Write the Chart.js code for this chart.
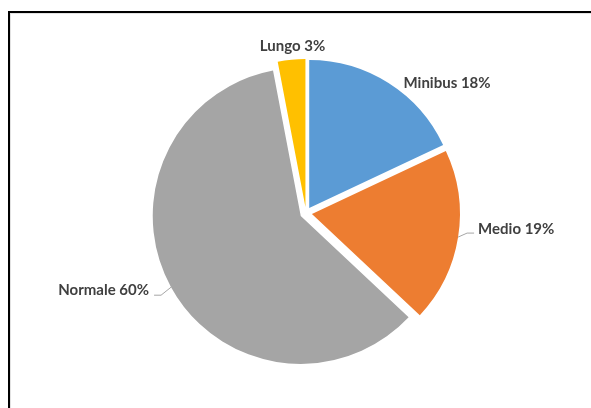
<!DOCTYPE html>
<html>
<head>
<meta charset="utf-8">
<script src="https://cdn.jsdelivr.net/npm/chart.js@4"></script>
<style>
  html, body { margin: 0; padding: 0; background: #fff; overflow: hidden; }
  #wrap { position: relative; width: 591px; height: 408px; overflow: hidden; }
  #frame {
    position: absolute; left: 8px; top: 11px; width: 620px; height: 430px;
    border: 2px solid #000; box-shadow: inset 1px 1px 0 #e2e2e2;
  }
  canvas { position: absolute; left: 0; top: 0; }
</style>
</head>
<body>
<div id="wrap">
  <div id="frame"></div>
  <canvas id="c" width="591" height="408"></canvas>
</div>
<script>
// Bus types and their share of the fleet (%)
const categories = ['Minibus', 'Medio', 'Normale', 'Lungo'];
const shares = [18, 19, 60, 3];
const sliceColors = ['#5B9BD5', '#ED7D31', '#A5A5A5', '#FFC000'];

// Label placement relative to the outer edge point of each slice
const labelLayout = [
  { align: 'left',   dx: 15,  dy: 5,  leader: null },
  { align: 'left',   dx: 20,  dy: -3, leader: [[9, -4], [16, -4]] },
  { align: 'right',  dx: -22, dy: 8,  leader: [[-10, 8], [-17, 8]] },
  { align: 'center', dx: 1,   dy: -9, leader: null }
];

const EXPLODE = 6;   // px each slice is pulled out from the centre
const RADIUS = 148;

// Pull every slice out along its bisector without changing its radius
const explodePlugin = {
  id: 'explodeSlices',
  afterDatasetsUpdate(chart) {
    chart.getDatasetMeta(0).data.forEach(arc => {
      const mid = (arc.startAngle + arc.endAngle) / 2;
      arc.x += Math.cos(mid) * EXPLODE;
      arc.y += Math.sin(mid) * EXPLODE;
    });
  }
};

// Category + percentage labels with short leader lines
const labelPlugin = {
  id: 'sliceLabels',
  afterDatasetsDraw(chart) {
    const ctx = chart.ctx;
    const meta = chart.getDatasetMeta(0);
    ctx.save();
    ctx.font = 'bold 15px Lato, "Liberation Sans", sans-serif';
    ctx.fillStyle = '#404040';
    ctx.textBaseline = 'alphabetic';
    meta.data.forEach((arc, i) => {
      const mid = (arc.startAngle + arc.endAngle) / 2;
      const ex = arc.x + Math.cos(mid) * arc.outerRadius;
      const ey = arc.y + Math.sin(mid) * arc.outerRadius;
      const lay = labelLayout[i];
      if (lay.leader) {
        ctx.strokeStyle = '#A6A6A6';
        ctx.lineWidth = 1;
        ctx.beginPath();
        ctx.moveTo(ex, ey);
        lay.leader.forEach(p => ctx.lineTo(ex + p[0], ey + p[1]));
        ctx.stroke();
      }
      ctx.textAlign = lay.align;
      ctx.fillText(categories[i] + ' ' + shares[i] + '%', ex + lay.dx, ey + lay.dy);
    });
    ctx.restore();
  }
};

new Chart(document.getElementById('c'), {
  type: 'pie',
  data: {
    labels: categories,
    datasets: [{
      data: shares,
      backgroundColor: sliceColors,
      borderWidth: 0
    }]
  },
  options: {
    responsive: false,
    animation: false,
    radius: RADIUS,
    layout: { padding: { left: 21, right: 0, top: 18, bottom: 0 } },
    plugins: {
      legend: { display: false },
      tooltip: { enabled: false }
    }
  },
  plugins: [explodePlugin, labelPlugin]
});
</script>
</body>
</html>
